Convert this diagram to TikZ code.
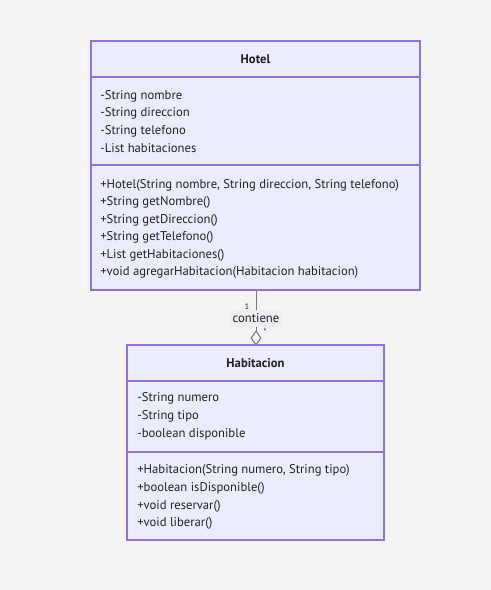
\documentclass[tikz,border=0pt]{standalone}
\usepackage{fontspec}
\setmainfont{PT Sans}
\usetikzlibrary{shapes.geometric}
\definecolor{bg}{HTML}{F4F4F4}
\definecolor{boxfill}{HTML}{ECECFF}
\definecolor{boxline}{HTML}{9370DB}
\definecolor{txt}{HTML}{222222}
\definecolor{conn}{HTML}{777777}
\definecolor{lblbg}{HTML}{EDEDF5}
\tikzset{
  x=0.75pt, y=-0.75pt,
  classbox/.style={draw=boxline, fill=boxfill, line width=0.9pt, inner sep=0pt, rectangle},
  divider/.style={draw=boxline, line width=0.9pt},
  member/.style={anchor=west, inner sep=0pt, text=txt, font=\fontsize{9.5}{11}\selectfont},
  title/.style={inner sep=0pt, text=txt, font=\fontsize{9.5}{11}\selectfont\bfseries},
  conn/.style={draw=conn, line width=0.75pt},
  card/.style={inner sep=0pt, text=txt, font=\fontsize{6}{7}\selectfont},
}
\begin{document}
\begin{tikzpicture}
\fill[bg] (0,0) rectangle (491,590);
\useasboundingbox (0,0) rectangle (491,590);

% Hotel
\node[classbox, minimum width=329*0.75pt, minimum height=249*0.75pt] (hotel) at (255.5,165.5) {};
\draw[divider] (hotel.west |- 0,77) -- (hotel.east |- 0,77);
\draw[divider] (hotel.west |- 0,165) -- (hotel.east |- 0,165);
\node[title] (hT) at (255.5,59.5) {Hotel};
\node[member] (h1) at (100,96) {-String nombre};
\node[member] (h2) at (100,113.5) {-String direccion};
\node[member] (h3) at (100,131) {-String telefono};
\node[member] (h4) at (100,148.5) {-List habitaciones};
\node[member] (h5) at (100,185) {+Hotel(String nombre, String direccion, String telefono)};
\node[member] (h6) at (100,202.5) {+String getNombre()};
\node[member] (h7) at (100,220) {+String getDireccion()};
\node[member] (h8) at (100,237.5) {+String getTelefono()};
\node[member] (h9) at (100,255) {+List getHabitaciones()};
\node[member] (h10) at (100,272.5) {+void agregarHabitacion(Habitacion habitacion)};

% Habitacion
\node[classbox, minimum width=257*0.75pt, minimum height=195*0.75pt] (hab) at (255.5,442.5) {};
\draw[divider] (hab.west |- 0,381) -- (hab.east |- 0,381);
\draw[divider] (hab.west |- 0,452) -- (hab.east |- 0,452);
\node[title] (bT) at (255.5,363.5) {Habitacion};
\node[member] (b1) at (137,398.5) {-String numero};
\node[member] (b2) at (137,416) {-String tipo};
\node[member] (b3) at (137,434) {-boolean disponible};
\node[member] (b4) at (137,470) {+Habitacion(String numero, String tipo)};
\node[member] (b5) at (137,488) {+boolean isDisponible()};
\node[member] (b6) at (137,506) {+void reservar()};
\node[member] (b7) at (137,523.5) {+void liberar()};

% connector
\node[diamond, draw=conn, fill=bg, line width=0.75pt, inner sep=0pt, minimum width=10*0.75pt, minimum height=14*0.75pt] (dia) at (256,338) {};
\draw[conn] (hotel.south -| dia.north) -- (dia.north);
\node[fill=lblbg, inner sep=1pt, text=txt, font=\fontsize{9.5}{11}\selectfont, minimum width=47*0.75pt, minimum height=17*0.75pt] (lbl) at (256,318.5) {contiene};
\node[card] (c1) at (247,307) {1};
\node[card] (c2) at (265,332) {*};
\end{tikzpicture}
\end{document}
